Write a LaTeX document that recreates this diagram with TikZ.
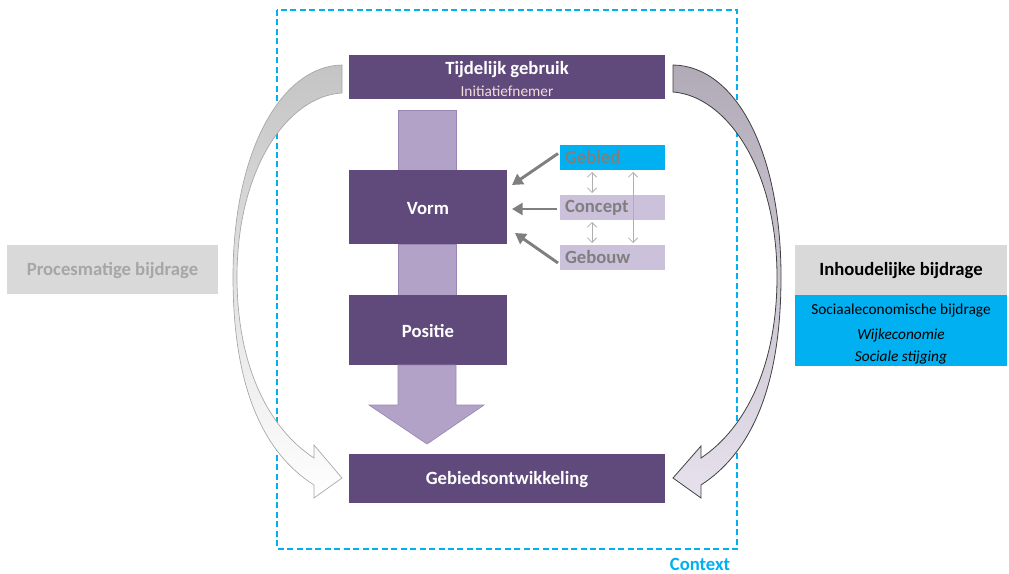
\documentclass[tikz,border=0pt]{standalone}
\usepackage{fontspec}
\setmainfont{Carlito}
\usetikzlibrary{arrows.meta,calc}
\definecolor{dpurp}{HTML}{604A7B}
\definecolor{lpurp}{HTML}{B3A2C7}
\definecolor{lpurpb}{HTML}{9A86B4}
\definecolor{lab}{HTML}{CCC1DA}
\definecolor{cyanone}{HTML}{00B0F0}
\definecolor{lgray}{HTML}{D9D9D9}
\definecolor{tgray}{HTML}{7F7F7F}
\definecolor{pgray}{HTML}{A6A6A6}
\definecolor{initc}{HTML}{F2DCDB}
\definecolor{rtop}{HTML}{B0ABB6}
\definecolor{rbot}{HTML}{E6E1EC}
\definecolor{ltop}{HTML}{C4C4C4}
\begin{document}
\begin{tikzpicture}[x=0.75pt,y=-0.75pt,
  wh/.style 2 args={minimum width=#1*0.75pt,minimum height=#2*0.75pt},
  big/.style={font=\fontsize{14}{16}\selectfont\bfseries},
  box/.style={fill=dpurp,inner sep=0pt,outer sep=0pt,text=white,big},
  boxtext/.style={text depth=0pt,yshift=-1.5pt},
  bar/.style={fill=lpurp,draw=lpurpb,line width=0.5pt,inner sep=0pt,outer sep=0pt},
  labbox/.style={inner sep=0pt,outer sep=0pt,inner xsep=5*0.75pt,text width=95*0.75pt,align=left,
     text=tgray,font=\fontsize{14}{16}\selectfont\bfseries},
  garrow/.style={draw=tgray,line width=2.2pt,-{Triangle[length=8pt,width=9pt]}},
  darrow/.style={draw=pgray!90,line width=0.6pt,{Straight Barb[length=3.5pt,width=7pt]}-{Straight Barb[length=3.5pt,width=7pt]}},
  txt/.style={inner sep=0pt,outer sep=0pt},
  small/.style={font=\fontsize{11.5}{13}\selectfont},
  smallit/.style={font=\fontsize{11.5}{13}\selectfont\itshape}
]
\useasboundingbox (0,0) rectangle (1009,574);

% context frame
\draw[cyanone,line width=1.5pt,dash pattern=on 4.5pt off 2.6pt] (277,10) rectangle (737,549);
\node[txt,text=cyanone,big] (ctx) at (700,564) {Context};

% curved arrows
\path[draw=gray!70,line width=0.5pt,top color=ltop,bottom color=white]
  (342,65) .. controls (282,66) and (233,150) .. (233,277)
  .. controls (233,385) and (262,452) .. (314,485)
  -- (314,498) -- (342,478) -- (314,445) -- (314,458)
  .. controls (268,428) and (237,365) .. (237,277)
  .. controls (237,168) and (288,96) .. (342,93) -- cycle;
\path[draw=black!75,line width=0.6pt,top color=rtop,bottom color=rbot]
  (673,65) .. controls (735,66) and (781,150) .. (781,277)
  .. controls (781,385) and (752,452) .. (701,485)
  -- (701,498) -- (673,478) -- (701,446) -- (701,458)
  .. controls (746,428) and (777,365) .. (777,277)
  .. controls (777,168) and (726,96) .. (673,92) -- cycle;

% central column
\node[box,wh={316}{44}] (tg) at (507,77) {};
\node[txt,text=white,big] (tgt) at (507,70) {Tijdelijk gebruik};
\node[txt,text=initc,small] (tgi) at (507,91) {Initiatiefnemer};
\node[bar,wh={58}{60}] (bar1) at (427,140) {};
\node[box,wh={158}{74}] (vorm) at (428,207) {};
\node[txt,text=white,big] (vormt) at (428,208.5) {Vorm};
\node[bar,wh={58}{51}] (bar2) at (427,269.5) {};
\node[box,wh={158}{70}] (positie) at (428,330) {};
\node[txt,text=white,big] (positiet) at (428,331) {Positie};
\path[fill=lpurp,draw=lpurpb,line width=0.5pt]
  (398,365) -- (398,405) -- (369,405) -- (427,444) -- (484,405) -- (456,405) -- (456,365) -- cycle;
\node[box,wh={316}{49}] (gebo) at (507,478.5) {};
\node[txt,text=white,big] (gebot) at (507,480) {Gebiedsontwikkeling};

% labels
\node[labbox,fill=cyanone,wh={105}{25}] (gebied) at (612.5,157.5) {Gebied};
\node[labbox,fill=lab,wh={105}{25}] (concept) at (612.5,207.5) {Concept};
\node[labbox,fill=lab,wh={105}{25}] (gebouw) at (612.5,257.5) {Gebouw};

\draw[garrow] ($(gebied.west)+(-2,-4)$) -- ($(vorm.east)+(5,-22)$);
\draw[garrow] ($(concept.west)+(-3,1.5)$) -- ($(vorm.east)+(5,2)$);
\draw[garrow] ($(gebouw.west)+(-2,5.5)$) -- ($(vorm.east)+(8,26)$);

\draw[darrow] ($(gebied.south west)+(32,2)$) -- ($(concept.north west)+(32,-2)$);
\draw[darrow] ($(concept.south west)+(32,2)$) -- ($(gebouw.north west)+(32,-2)$);
\draw[darrow] ($(gebied.south west)+(73,2)$) -- ($(gebouw.north west)+(73,-2)$);

% side boxes
\node[fill=lgray,inner sep=0pt,outer sep=0pt,wh={211}{49}] (proc) at (112.5,269.5) {};
\node[txt,text=pgray,big] (proct) at (112.5,271) {Procesmatige bijdrage};
\node[fill=lgray,inner sep=0pt,outer sep=0pt,wh={212}{50}] (inh) at (901,270) {};
\node[txt,text=black,big] (inht) at (901,271) {Inhoudelijke bijdrage};
\node[fill=cyanone,inner sep=0pt,outer sep=0pt,wh={212}{71}] (inhb) at (901,330.5) {};
\node[txt,small] (soc) at (901,310) {Sociaaleconomische bijdrage};
\node[txt,smallit] (wijk) at (901,335) {Wijkeconomie};
\node[txt,smallit] (stij) at (901,357) {Sociale stijging};
\end{tikzpicture}
\end{document}
